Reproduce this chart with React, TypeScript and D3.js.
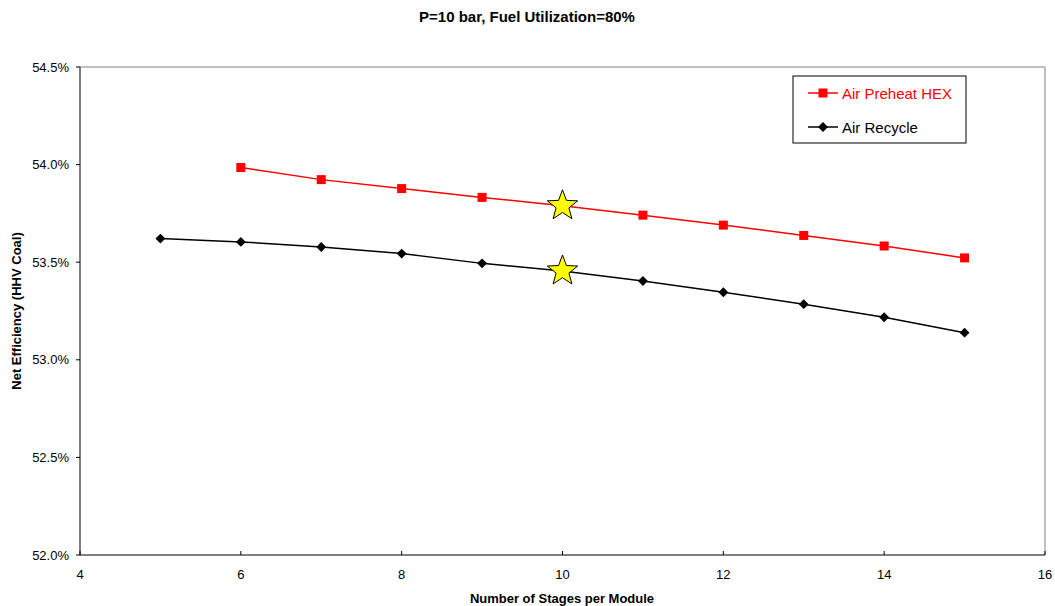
import React from "react";
import * as d3 from "d3";

const stages = [5, 6, 7, 8, 9, 10, 11, 12, 13, 14, 15];
const preheatStages = [6, 7, 8, 9, 10, 11, 12, 13, 14, 15];
const preheatEff = [53.985, 53.923, 53.877, 53.832, 53.789, 53.741, 53.69, 53.637, 53.583, 53.522];
const recycleEff = [53.621, 53.604, 53.578, 53.544, 53.494, 53.455, 53.404, 53.346, 53.285, 53.218, 53.139];
const xTicks = [4, 6, 8, 10, 12, 14, 16];
const yTicks = [52.0, 52.5, 53.0, 53.5, 54.0, 54.5];
const selected = 10;

const W = 1055;
const H = 606;
const m = { left: 80, right: 10, top: 67, bottom: 51 };
const font = "'Liberation Sans', Arial, sans-serif";

function starPath(cx: number, cy: number, r: number) {
  const pts: string[] = [];
  const inner = r * 0.42;
  for (let i = 0; i < 10; i++) {
    const a = -Math.PI / 2 + (i * Math.PI) / 5;
    const rr = i % 2 === 0 ? r : inner;
    pts.push(`${cx + rr * Math.cos(a)},${cy + rr * Math.sin(a)}`);
  }
  return "M" + pts.join("L") + "Z";
}

export default function App() {
  const x = d3.scaleLinear().domain([4, 16]).range([m.left, W - m.right]);
  const y = d3.scaleLinear().domain([52, 54.5]).range([H - m.bottom, m.top]);
  const line = d3
    .line<[number, number]>()
    .x((d) => x(d[0]))
    .y((d) => y(d[1]));

  const red: [number, number][] = preheatStages.map((s, i) => [s, preheatEff[i]]);
  const black: [number, number][] = stages.map((s, i) => [s, recycleEff[i]]);
  const starRed = preheatEff[preheatStages.indexOf(selected)];
  const starBlack = recycleEff[stages.indexOf(selected)];

  const x0 = x(4);
  const x1 = x(16);
  const y0 = y(52);
  const y1 = y(54.5);

  return (
    <svg width={W} height={H} style={{ position: "absolute", left: 0, top: 0 }} fontFamily={font}>
      <rect width={W} height={H} fill="#fff" />
      <text x={527} y={22} textAnchor="middle" fontSize={15} fontWeight="bold">
        P=10 bar, Fuel Utilization=80%
      </text>

      {/* plot frame */}
      <line x1={x0} y1={y1} x2={x1} y2={y1} stroke="#808080" />
      <line x1={x1} y1={y1} x2={x1} y2={y0} stroke="#808080" />
      <line x1={x0} y1={y1} x2={x0} y2={y0} stroke="#000" />
      <line x1={x0} y1={y0} x2={x1} y2={y0} stroke="#000" />

      {yTicks.map((t) => (
        <g key={t}>
          <line x1={x0 - 4} x2={x0} y1={y(t)} y2={y(t)} stroke="#000" />
          <text x={x0 - 11} y={y(t) + 4.5} textAnchor="end" fontSize={13}>
            {t.toFixed(1)}%
          </text>
        </g>
      ))}
      {xTicks.map((t) => (
        <g key={t}>
          <line x1={x(t)} x2={x(t)} y1={y0} y2={y0 - 4} stroke="#000" />
          <text x={x(t)} y={y0 + 24} textAnchor="middle" fontSize={13}>
            {t}
          </text>
        </g>
      ))}

      <text x={562} y={603} textAnchor="middle" fontSize={13} fontWeight="bold">
        Number of Stages per Module
      </text>
      <text
        transform={`translate(21,${(y0 + y1) / 2}) rotate(-90)`}
        textAnchor="middle"
        fontSize={13}
        fontWeight="bold"
      >
        Net Efficiency (HHV Coal)
      </text>

      <path d={line(black) || ""} fill="none" stroke="#000" strokeWidth={1.5} />
      {black.map((d) => (
        <rect
          key={d[0]}
          x={x(d[0]) - 3.5}
          y={y(d[1]) - 3.5}
          width={7}
          height={7}
          fill="#000"
          transform={`rotate(45 ${x(d[0])} ${y(d[1])})`}
        />
      ))}
      <path d={line(red) || ""} fill="none" stroke="#ff0000" strokeWidth={1.5} />
      {red.map((d) => (
        <rect key={d[0]} x={x(d[0]) - 4.5} y={y(d[1]) - 4.5} width={9} height={9} fill="#ff0000" />
      ))}

      <path d={starPath(x(selected), y(starRed), 16)} fill="#ffff00" stroke="#000" strokeWidth={1} />
      <path d={starPath(x(selected), y(starBlack), 16)} fill="#ffff00" stroke="#000" strokeWidth={1} />

      {/* legend */}
      <rect x={793} y={76} width={173} height={67} fill="#fff" stroke="#000" />
      <line x1={808} x2={838} y1={93} y2={93} stroke="#ff0000" strokeWidth={1.5} />
      <rect x={818.5} y={88.5} width={9} height={9} fill="#ff0000" />
      <text x={842} y={98.5} fontSize={15} fill="#ff0000">
        Air Preheat HEX
      </text>
      <line x1={808} x2={838} y1={127} y2={127} stroke="#000" strokeWidth={1.5} />
      <rect x={819.5} y={123.5} width={7} height={7} fill="#000" transform="rotate(45 823 127)" />
      <text x={842} y={132.5} fontSize={15}>
        Air Recycle
      </text>
    </svg>
  );
}
